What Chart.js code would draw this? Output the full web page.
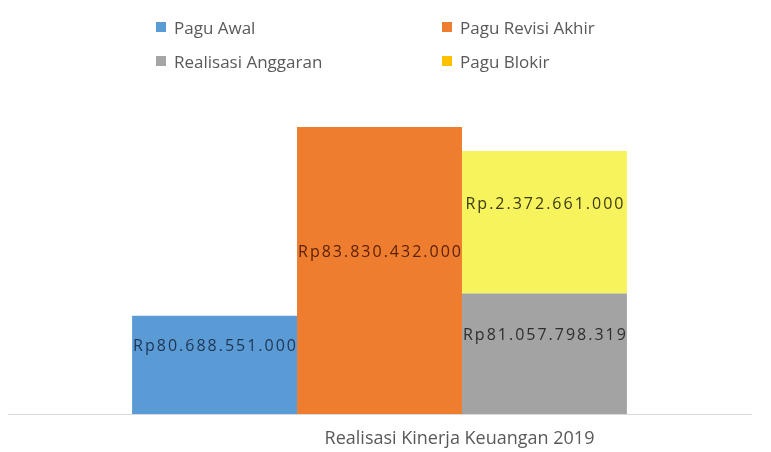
<!DOCTYPE html>
<html>
<head>
<meta charset="utf-8">
<script src="https://cdn.jsdelivr.net/npm/chart.js@4/dist/chart.umd.min.js"></script>
<style>
  html, body { margin: 0; padding: 0; background: #fff; }
  #wrap { position: relative; width: 771px; height: 452px; }
  #legend { position: absolute; left: 156px; top: 15px; display: grid;
    grid-template-columns: 286px 200px; row-gap: 10px;
    font-family: "Open Sans", sans-serif; font-size: 17px; color: #595959; }
  #legend .item { display: flex; align-items: center; height: 24px; white-space: nowrap; }
  #legend .sw { width: 10px; height: 10px; margin-right: 8px; }
</style>
</head>
<body>
<div id="wrap">
  <canvas id="chart" width="771" height="452"></canvas>
  <div id="legend"></div>
</div>
<script>
// Data
const categories = ["Realisasi Kinerja Keuangan 2019"];
const seriesNames = ["Pagu Awal", "Pagu Revisi Akhir", "Realisasi Anggaran", "Pagu Blokir"];
const paguAwal = [80688551000];
const paguRevisiAkhir = [83830432000];
const realisasiAnggaran = [81057798319];
const paguBlokir = [2372661000];
const labelPrefixes = ["Rp", "Rp", "Rp", "Rp."];

const barColors = ["#5b9bd5", "#ef7d2f", "#a3a3a3", "#f7f35c"];
const swatchColors = ["#5b9bd5", "#ed7d31", "#a5a5a5", "#ffc000"];
const labelColors = ["#1e3553", "#5c2100", "#2e2e2e", "#3b3a12"];

function fmt(v) {
  return new Intl.NumberFormat("id-ID", { maximumFractionDigits: 0 }).format(Math.round(v));
}

// draws the value labels on each bar (bars start below the axis min, so clamp to the chart area)
const valueLabels = {
  id: "valueLabels",
  afterDatasetsDraw(chart) {
    const ctx = chart.ctx;
    const area = chart.chartArea;
    ctx.save();
    ctx.font = "16px 'Open Sans'";
    ctx.letterSpacing = "2px";
    ctx.textAlign = "center";
    ctx.textBaseline = "middle";
    chart.data.datasets.forEach((ds, i) => {
      const meta = chart.getDatasetMeta(i);
      meta.data.forEach((bar, j) => {
        const top = Math.max(Math.min(bar.y, bar.base), area.top);
        const bottom = Math.min(Math.max(bar.y, bar.base), area.bottom);
        ctx.fillStyle = labelColors[i];
        ctx.fillText(labelPrefixes[i] + fmt(ds.data[j]), bar.x + 1, (top + bottom) / 2 - 18);
      });
    });
    ctx.restore();
  },
};

const allSeries = [paguAwal, paguRevisiAkhir, realisasiAnggaran, paguBlokir];
const stacks = ["a", "b", "c", "c"];

new Chart(document.getElementById("chart").getContext("2d"), {
  type: "bar",
  data: {
    labels: categories,
    datasets: allSeries.map((d, i) => ({
      label: seriesNames[i],
      data: d,
      stack: stacks[i],
      backgroundColor: barColors[i],
      borderWidth: 0,
      barPercentage: 1,
      categoryPercentage: 0.666,
    })),
  },
  options: {
    responsive: false,
    animation: false,
    layout: { padding: { top: 127, left: 8, right: 20, bottom: 0 } },
    plugins: {
      legend: { display: false },
      tooltip: { enabled: false },
    },
    scales: {
      x: {
        grid: { display: false, drawTicks: false },
        border: { display: true, color: "#d9d9d9", width: 1 },
        ticks: {
          color: "#595959",
          font: { family: "'Open Sans'", size: 18 },
          padding: 14,
          labelOffset: 80,
        },
        afterFit(scale) {
          scale.height = 38;
        },
      },
      y: {
        display: false,
        stacked: true,
        min: 79050000000,
        max: 83830432000,
      },
    },
  },
  plugins: [valueLabels],
});

// legend in two columns like the original
const legend = document.getElementById("legend");
seriesNames.forEach((name, i) => {
  const item = document.createElement("div");
  item.className = "item";
  const sw = document.createElement("span");
  sw.className = "sw";
  sw.style.background = swatchColors[i];
  const txt = document.createElement("span");
  txt.textContent = name;
  item.appendChild(sw);
  item.appendChild(txt);
  legend.appendChild(item);
});
</script>
</body>
</html>
